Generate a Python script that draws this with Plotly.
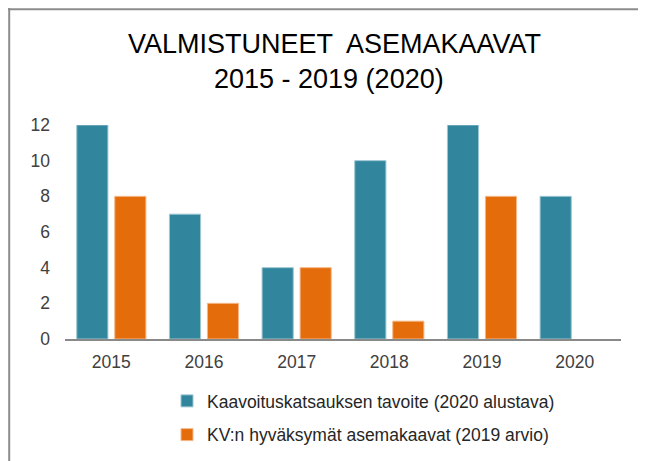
import plotly.graph_objects as go

years = ["2015", "2016", "2017", "2018", "2019", "2020"]
tavoite = [12, 7, 4, 10, 12, 8]
hyvaksytyt = [8, 2, 4, 1, 8, None]
name_tavoite = "Kaavoituskatsauksen tavoite (2020 alustava)"
name_hyv = "KV:n hyväksymät asemakaavat (2019 arvio)"
title_1 = "VALMISTUNEET  ASEMAKAAVAT"
title_2 = "2015 - 2019 (2020)"
y_ticks = [0, 2, 4, 6, 8, 10, 12]

FONT = "Liberation Sans, Arial, sans-serif"
OFF = 8  # page body margin

fig = go.Figure()
fig.add_trace(go.Bar(x=years, y=tavoite, name=name_tavoite, legendgroup="a",
                     marker=dict(color="#31859C", line=dict(color="#9cc6d2", width=1))))
fig.add_trace(go.Bar(x=years, y=hyvaksytyt, name=name_hyv, legendgroup="b",
                     marker=dict(color="#E46C0A", line=dict(color="#f5b98a", width=1))))

W, H = 646 - OFF, 461 - OFF
L, T = 65 - OFF, 125 - OFF
R = W - (621 - OFF)
B = H - (339 - OFF)
pw = W - L - R
ph = H - T - B

def px_x(x):
    # x given in screen pixels
    return (x - OFF - L) / pw

def px_y(y):
    return (H - B - (y - OFF)) / ph

fig.update_layout(
    width=W, height=H,
    margin=dict(l=L, r=R, t=T, b=B, autoexpand=False),
    paper_bgcolor="white", plot_bgcolor="white",
    barmode="group", bargap=0.18, bargroupgap=0.18,
    font=dict(family=FONT, color="#404040", size=17),
    xaxis=dict(showline=True, linecolor="#898989", linewidth=2, ticks="",
               ticklabelstandoff=6,
               tickfont=dict(size=17.5, color="#404040"), showgrid=False),
    yaxis=dict(range=[0, 12], tickvals=y_ticks, showgrid=False, zeroline=False,
               showline=False, ticks="", ticklabelstandoff=14,
               tickfont=dict(size=17.5, color="#404040")),
    legend=dict(x=px_x(167), y=px_y(383), xanchor="left", yanchor="top",
                traceorder="grouped", tracegroupgap=8,
                font=dict(size=17.5, color="#262626"), bgcolor="rgba(0,0,0,0)"),
    showlegend=True,
    annotations=[
        dict(text=title_1, xref="paper", yref="paper", x=px_x(334), y=px_y(44),
             xanchor="center", yanchor="middle", showarrow=False,
             font=dict(family=FONT, size=27, color="#000000")),
        dict(text=title_2, xref="paper", yref="paper", x=px_x(329), y=px_y(79),
             xanchor="center", yanchor="middle", showarrow=False,
             font=dict(family=FONT, size=27, color="#000000")),
    ],
    shapes=[
        dict(type="line", xref="paper", yref="paper", x0=px_x(8), x1=px_x(660),
             y0=px_y(9.2), y1=px_y(9.2), line=dict(color="#8c8c8c", width=2)),
        dict(type="line", xref="paper", yref="paper", x0=px_x(9.2), x1=px_x(9.2),
             y0=px_y(8), y1=px_y(480), line=dict(color="#8c8c8c", width=2)),
    ],
)

fig.write_html("out.html")
